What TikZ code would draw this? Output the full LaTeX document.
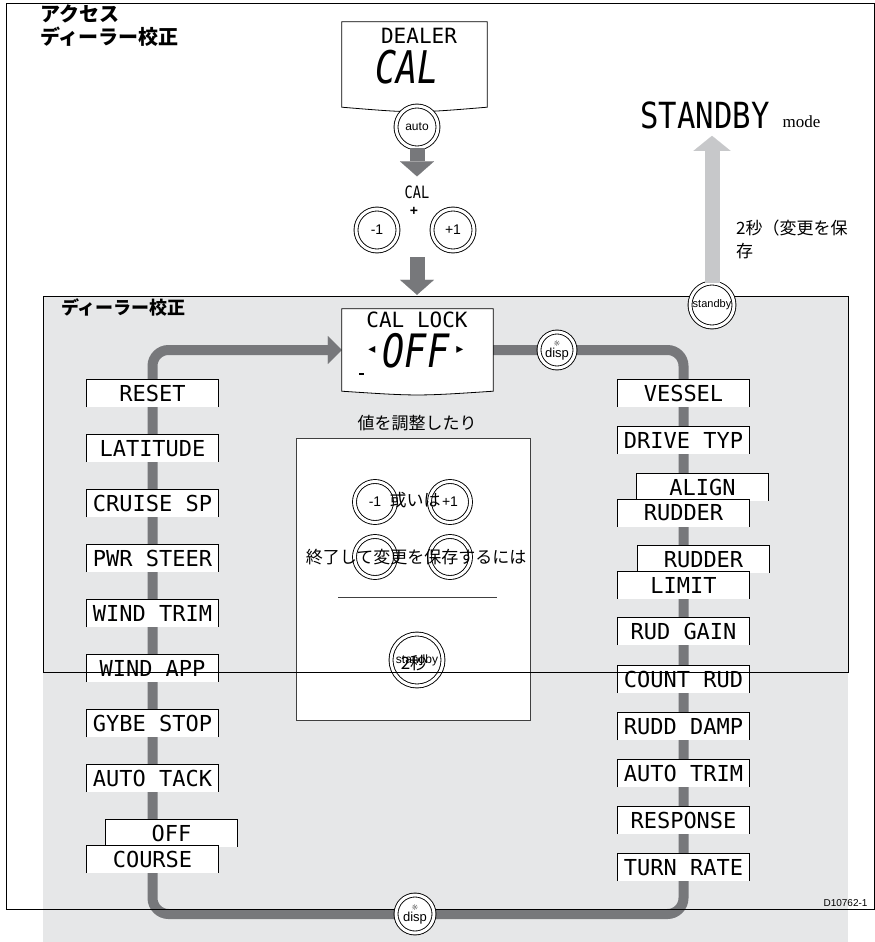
\documentclass[tikz,border=0pt]{standalone}
\usepackage{fontspec}
\usepackage{tikz}
\usetikzlibrary{arrows.meta,positioning,calc,backgrounds}
\setmainfont{Liberation Sans}
\newfontfamily\jp{Noto Sans CJK JP}
\newfontfamily\lcd{DejaVu Sans Mono}
\newfontfamily\symb{DejaVu Sans}
\newfontfamily\serf{Liberation Serif}
\definecolor{panelgray}{HTML}{E6E7E8}
\definecolor{loopgray}{HTML}{77787B}
\definecolor{lightarrow}{HTML}{C7C8CA}

\tikzset{
  lcdbox/.style={fill=white, minimum width=131pt, minimum height=27pt, inner sep=0pt, font=\lcd\fontsize{22}{22}\selectfont},
  lcdedge/.style={line width=0.9pt},
  btn/.style={circle, draw, double, double distance=3pt, line width=0.9pt, fill=white, inner sep=0pt, font=\fontsize{14}{14}\selectfont},
  dispbtn/.style={btn, align=center, font=\fontsize{13}{10}\selectfont},
  looppath/.style={loopgray, line width=10pt, rounded corners=16pt},
  bigarrow/.style={loopgray, line width=15pt, -{Triangle[width=34pt,length=15pt,line width=0.1pt]}},
  jptext/.style={font=\jp\fontsize{17}{20}\selectfont},
}

\begin{document}
\begin{tikzpicture}[x=1pt, y=-1pt]
\useasboundingbox (0,0) rectangle (875,942);

% titles
\node[font=\jp\bfseries\fontsize{20}{23}\selectfont, align=left, anchor=north west, inner sep=0pt] (title) at (40,5) {アクセス\\ディーラー校正};
\node[font=\jp\bfseries\fontsize{18}{18}\selectfont, anchor=west, inner sep=0pt] (sectitle) at (61,307) {ディーラー校正};

% entry display
\node[minimum width=145pt, minimum height=85pt, inner sep=0pt] (dealer) at (414.5,64.5) {};
\draw[fill=white, line width=0.8pt] (dealer.north west) -- (dealer.north east) -- (dealer.south east) .. controls ([yshift=-6pt]dealer.south) .. (dealer.south west) -- cycle;
\node[font=\lcd\fontsize{21}{21}\selectfont] (dealertxt) at (419,36) {DEALER};
\node[font=\lcd\itshape\fontsize{45}{45}\selectfont] (caltxt) at (407,67) {\scalebox{0.78}[1]{CAL}};

\node[btn, minimum size=42pt, font=\fontsize{12}{12}\selectfont] (auto) at (417,127) {auto};
\node[font=\lcd\fontsize{17}{17}\selectfont, inner sep=2pt] (calword) at (417,192) {\scalebox{0.8}[1]{CAL}};
\node[font=\bfseries\fontsize{14}{14}\selectfont] (plus) at (414,211) {+};
\node[btn, minimum size=42pt] (m1) at (377,230) {-1};
\node[btn, minimum size=42pt] (p1) at (453,230) {+1};

% lock display
\node[minimum width=151pt, minimum height=82pt, inner sep=0pt] (lock) at (417.5,350) {};
\draw[fill=white, line width=0.8pt] (lock.north west) -- (lock.north east) -- (lock.south east) .. controls ([yshift=-5pt]lock.south) .. (lock.south west) -- cycle;
\node[font=\lcd\fontsize{21}{21}\selectfont] (locktxt) at (417,320) {CAL LOCK};
\node[font=\lcd\itshape\fontsize{46}{46}\selectfont] (lockval) at (416,351) {\scalebox{0.8}[1]{OFF}};
\node[font=\symb\fontsize{14}{14}\selectfont] (larr) at (372,350) {◂};
\node[font=\symb\fontsize{14}{14}\selectfont] (rarr) at (460,350) {▸};
\fill (359,373) rectangle (364,375);

\draw[bigarrow, shorten >=7pt] (auto.south) -- (calword.north);
\draw[bigarrow, shorten <=6pt, shorten >=14pt] (m1.south -| auto) -- (auto |- lock.north);

% standby exit
\node[font=\lcd\fontsize{36}{36}\selectfont, inner sep=2pt] (standby) at (705,115) {\scalebox{0.85}[1]{STANDBY}};
\node[font=\serf\fontsize{17}{17}\selectfont, anchor=base west] (mode) at (779,127) {mode};
\node[font=\jp\fontsize{17}{23}\selectfont, align=left, anchor=north west, inner sep=0pt] (savelbl) at (736,220) {2秒（変更を保\\存};

% menu items
\foreach \name/\txt/\x/\y in {reset/RESET/152.5/393.5, lat/LATITUDE/152.5/448.5, cruise/CRUISE SP/152.5/503.5, pwr/PWR STEER/152.5/558.5, windtrim/WIND TRIM/152.5/613.5, windapp/WIND APP/152.5/668.5, gybe/GYBE STOP/152.5/723.5, tack/AUTO TACK/152.5/778.5, courseoff/OFF/171.5/833.5, course/COURSE/152.5/859.5, vessel/VESSEL/683.5/393, drive/DRIVE TYP/683.5/440.5, align/ALIGN/702.5/487, rudder/RUDDER/683.5/513, rudlim/RUDDER/703.5/559.5, limit/LIMIT/683.5/585, rudgain/RUD GAIN/683.5/631.5, countrud/COUNT RUD/683.5/679.5, ruddamp/RUDD DAMP/683.5/726.5, autotrim/AUTO TRIM/683.5/773.5, response/RESPONSE/683.5/820.5, turnrate/TURN RATE/683.5/867.5}{
  \node[lcdbox] (\name) at (\x,\y) {\txt};
  \draw[lcdedge] (\name.south west) |- (\name.north east) -- (\name.south east);
}

% adjust panel
\node[jptext] (adjust) at (417,423) {値を調整したり};
\node[draw=black!75, line width=0.9pt, fill=white, minimum width=234pt, minimum height=282pt] (panel) at (413,579) {};
\node[btn, minimum size=41pt] (cm1) at (375,502) {-1};
\node[btn, minimum size=41pt] (cp1) at (450,502) {+1};
\node[btn, minimum size=41pt] (cm2) at (375,557) {};
\node[btn, minimum size=41pt] (cp2) at (450,557) {};
\node[jptext] (ortxt) at (415,500) {或いは};
\node[jptext] (exittxt) at (416,557) {終了して変更を保存するには};
\draw[line width=0.9pt, black!75] (338,597) -- (497,597);
\node[btn, minimum size=52pt, font=\fontsize{12}{12}\selectfont] (stbyc) at (417,660) {standby};
\node[jptext] (twosec) at (414,663) {2秒};

% frames
\draw[line width=0.9pt] (43,296) rectangle (848,672);
\draw[line width=0.9pt] (6,3) rectangle (874,909);
\node[font=\fontsize{10}{10}\selectfont, anchor=east] (figid) at (871,903) {D10762-1};

% buttons on the loop
\node[btn, minimum size=44pt, font=\fontsize{11}{11}\selectfont] (stbytop) at (712,305) {standby};
\node[dispbtn, minimum size=36pt] (dispR) at (557,350) {{\symb\fontsize{8}{8}\selectfont ☼}\\[1pt]disp};
\node[dispbtn, minimum size=38pt] (dispB) at (415,914) {{\symb\fontsize{8}{8}\selectfont ☼}\\[1pt]disp};
\draw[lightarrow, line width=15pt, -{Triangle[width=37pt,length=15pt,line width=0.1pt]}, shorten >=5pt] (stbytop.north) -- (stbytop.north |- standby.south);

\begin{scope}[on background layer]
  \fill[panelgray] (43,296) rectangle (848,942);
  \draw[looppath, -{Triangle[width=28pt,length=14pt,line width=0.1pt]}] (lock.east) -| (turnrate.center) |- (dispB.center) -| (course.center) |- (lock.west);
\end{scope}
\end{tikzpicture}
\end{document}
